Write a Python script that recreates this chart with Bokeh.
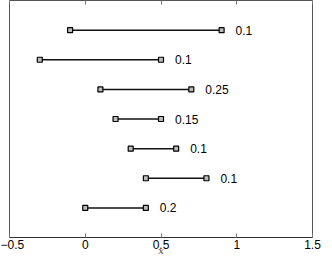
from bokeh.plotting import figure
from bokeh.models import ColumnDataSource, LinearAxis, Range1d, FixedTicker
from bokeh.core.properties import value
from bokeh.embed import file_html
from bokeh.resources import INLINE

rows = [7, 6, 5, 4, 3, 2, 1]
starts = [-0.1, -0.3, 0.1, 0.2, 0.3, 0.4, 0.0]
ends = [0.9, 0.5, 0.7, 0.5, 0.6, 0.8, 0.4]
labels = ["0.1", "0.1", "0.25", "0.15", "0.1", "0.1", "0.2"]
xticks = [-0.5, 0, 0.5, 1, 1.5]

src = ColumnDataSource(dict(y=rows, x0=starts, x1=ends, lab=labels))

p = figure(width=324, height=258, output_backend="svg", toolbar_location=None,
           x_range=Range1d(-0.5, 1.5), y_range=Range1d(0, 8),
           min_border_left=9, min_border_right=12, min_border_top=0, min_border_bottom=0,
           x_axis_location="below")
p.grid.visible = False
p.yaxis.visible = False
p.outline_line_color = "#555555"
p.outline_line_width = 1
p.background_fill_color = "white"
p.border_fill_color = "white"

xa = p.xaxis[0]
xa.ticker = FixedTicker(ticks=xticks)
xa.major_label_overrides = {-0.5: "\u22120.5", 0: "0", 0.5: "0.5", 1: "1", 1.5: "1.5"}
xa.major_tick_in = 4
xa.major_tick_out = 0
xa.minor_tick_line_color = None
xa.axis_line_color = "#333333"
xa.major_tick_line_color = "#777777"
xa.major_label_text_font = "Liberation Sans"
xa.major_label_text_font_size = "12px"
xa.major_label_text_color = "black"
xa.major_label_standoff = 2
xa.axis_label = "x"
xa.axis_label_text_font = "DejaVu Serif"
xa.axis_label_text_font_style = "italic"
xa.axis_label_text_font_size = "10px"
xa.axis_label_standoff = -7

top = LinearAxis(ticker=FixedTicker(ticks=xticks))
top.major_tick_in = 4
top.major_tick_out = 0
top.minor_tick_line_color = None
top.axis_line_color = None
top.major_tick_line_color = "#777777"
top.major_label_overrides = {t: "" for t in xticks}
top.major_label_standoff = 0
p.add_layout(top, "above")

p.segment(x0="x0", y0="y", x1="x1", y1="y", source=src, line_color="#111111", line_width=1.5)
p.scatter(x="x0", y="y", source=src, marker="square", size=5, fill_color="#bbbbbb",
          line_color="black", line_width=1.2)
p.scatter(x="x1", y="y", source=src, marker="square", size=5, fill_color="#bbbbbb",
          line_color="black", line_width=1.2)
p.text(x="x1", y="y", text="lab", source=src, x_offset=14, text_baseline="middle",
       text_font=value("Liberation Sans"), text_font_size="12px", text_color="black")

open("out.html", "w").write(file_html(p, INLINE))
